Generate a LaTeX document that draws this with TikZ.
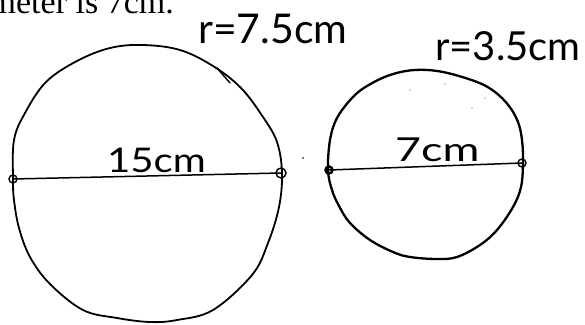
\documentclass[tikz,border=0pt]{standalone}
\usepackage{fontspec}
\setmainfont{Liberation Serif}
\newfontfamily\hand{Lato}
\tikzset{
  rim/.style={line width=1.8pt, line join=round, line cap=round},
  diam/.style={line width=1.5pt, line cap=round},
  endmark/.style={line width=1.4pt},
  handtext/.style={inner sep=0pt, anchor=base west},
  speck/.style={fill=black!70}
}
\begin{document}
\begin{tikzpicture}[x=1pt, y=-1pt]
\useasboundingbox (0,0) rectangle (585,324);
\clip (0,0) rectangle (585,324);

% printed text, cut at the top edge
\node[inner sep=0pt, anchor=base east, font=\fontsize{34}{40}\selectfont] (caption) at (174,13) {meter is 7cm.};

% large circle
\coordinate (LA) at (13,179);
\coordinate (LB) at (281,173);
\draw[rim] plot[smooth cycle, tension=0.6] coordinates {
  (13,179) (14,140) (25,113) (46,82) (77,61) (110,48) (143,45) (180,50)
  (213,66) (241,88) (263,117) (277,142) (282,173) (279,207) (268,243)
  (252,275) (213,310) (177,320) (150,322) (117,318) (83,310)
  (50,284) (30,257) (19,228) (14,200)};
\draw[diam] (LA) -- (LB);
\draw[endmark] (LA) circle (4);
\draw[endmark] (LB) circle (5);
% tick across the top arc
\coordinate (T1) at (217,68);
\coordinate (T2) at (230,83);
\draw[line width=1.4pt, line cap=round] (T1) -- (T2);

% small circle
\coordinate (SA) at (329,170);
\coordinate (SB) at (522,163);
\draw[rim, line width=2.3pt] plot[smooth cycle, tension=0.6] coordinates {
  (328,170) (330,140) (337,118) (352,98) (367,86) (390,75) (415,70)
  (443,72) (477,82) (495,92) (509,106) (518,122) (522,140) (523,163)
  (521,187) (513,207) (497,230) (480,245) (457,257) (437,259) (410,257)
  (393,252) (370,240) (350,223) (339,206) (332,190)};
\draw[diam] (SA) -- (SB);
\draw[endmark, line width=2.4pt] (SA) circle (3.5);
\draw[endmark] (SB) circle (4);

% stray specks of the scan
\fill[speck] (303,158) circle (1.1);
\fill[speck] (410,90) circle (0.6);
\fill[speck] (445,84) circle (0.6);
\fill[speck] (485,98) circle (0.6);
\fill[speck] (472,108) circle (0.6);

% handwritten labels
\node[handtext, font=\hand\fontsize{41}{46}\selectfont] (r1) at (198,43) {r=7.5cm};
\node[handtext, font=\hand\fontsize{40}{44}\selectfont] (r2) at (435,60) {r=3.5cm};
\node[handtext, font=\hand\fontsize{34}{38}\selectfont] (d1) at (107,172) {\scalebox{1.18}[1]{15cm}};
\node[handtext, font=\hand\fontsize{33}{37}\selectfont] (d2) at (395,161) {\scalebox{1.36}[1]{7cm}};
\end{tikzpicture}
\end{document}
